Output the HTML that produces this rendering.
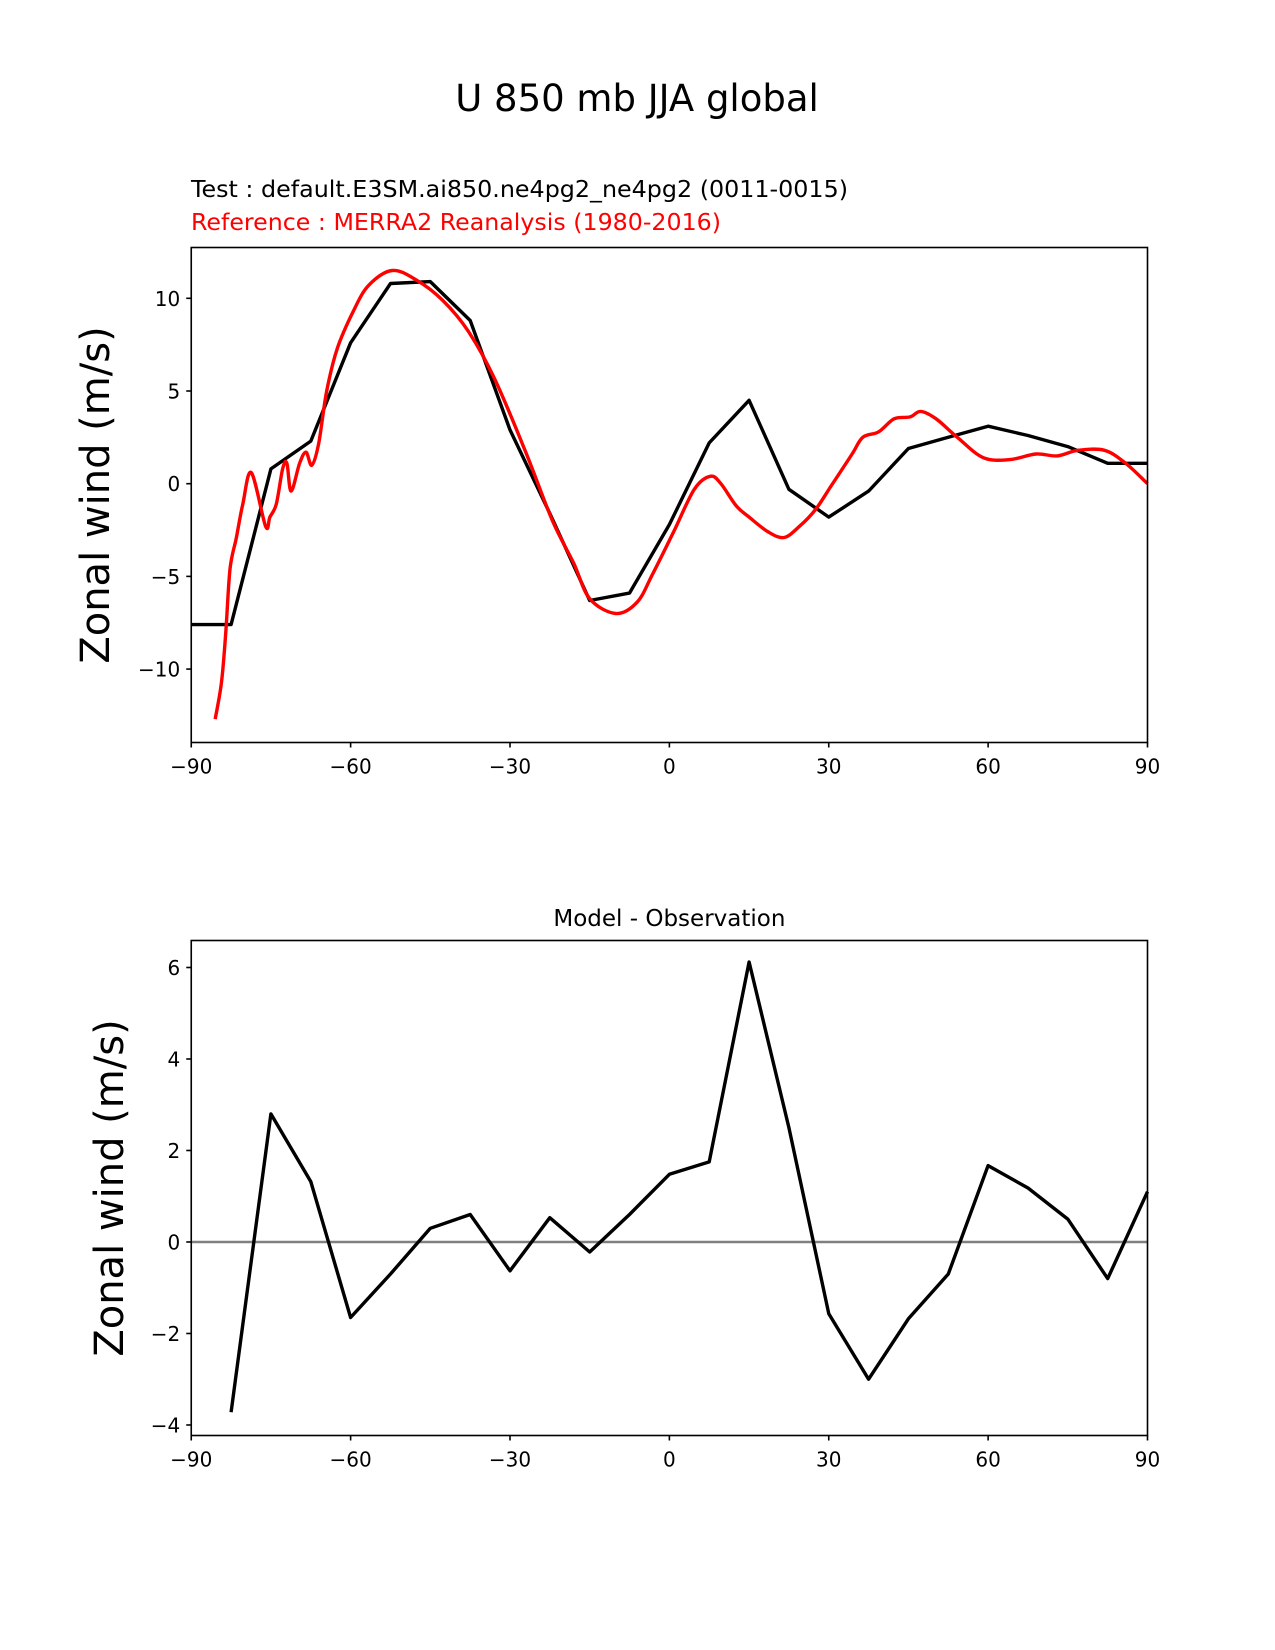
<!DOCTYPE html>
<html><head><meta charset="utf-8"><style>
html,body{margin:0;padding:0;background:#fff}
svg{display:block}
text{font-family:"DejaVu Sans","Liberation Sans",sans-serif}
</style></head><body>
<svg id="fig" width="1275" height="1650" viewBox="0 0 1275 1650" xmlns="http://www.w3.org/2000/svg">
<text x="637" y="111" font-size="37" text-anchor="middle">U 850 mb JJA global</text>
<text x="191" y="197" font-size="23.5" textLength="657" lengthAdjust="spacingAndGlyphs">Test : default.E3SM.ai850.ne4pg2_ne4pg2 (0011-0015)</text>
<text x="191" y="230" font-size="23.5" fill="#ff0000" textLength="530" lengthAdjust="spacingAndGlyphs">Reference : MERRA2 Reanalysis (1980-2016)</text>
<text x="669.4" y="926" font-size="23" text-anchor="middle">Model - Observation</text>
<g id="top"></g>
<g id="bot"></g>
</svg>
<script>
const lats = [-90,-82.5,-75,-67.5,-60,-52.5,-45,-37.5,-30,-22.5,-15,-7.5,0,7.5,15,22.5,30,37.5,45,52.5,60,67.5,75,82.5,90];
const testVals = [-7.6,-7.6,0.8,2.3,7.6,10.8,10.9,8.8,2.9,-1.6,-6.3,-5.9,-2.2,2.2,4.5,-0.3,-1.8,-0.4,1.9,2.5,3.1,2.6,2.0,1.1,1.1];
const refLats = [-85.5,-84.3,-83.5,-82.7,-81.5,-80.3,-78.7,-76,-75.2,-74,-72.8,-72,-71.2,-69.6,-68.4,-67.3,-66,-64.5,-62.5,-59.5,-56.6,-52.2,-47.7,-42.7,-37.8,-32.8,-26.9,-22,-18,-15,-10.1,-6.1,-3.2,0.8,4.7,7.7,9.7,12.6,15,18.6,21.6,24.5,27.5,30.5,34.4,36.4,39.4,42.3,45.3,47.3,50.2,54.2,59.1,64.1,69,73,76.9,81.9,85.9,90];
const refVals = [-12.7,-10.7,-8,-4.6,-2.9,-1.1,0.6,-2.3,-1.8,-1.1,0.8,1.1,-0.4,1.1,1.7,1.0,2.2,5.0,7.3,9.3,10.7,11.5,11.0,9.9,8.2,5.6,1.6,-2.0,-4.3,-6.2,-7.0,-6.4,-4.9,-2.6,-0.3,0.4,0,-1.2,-1.8,-2.6,-2.9,-2.3,-1.4,-0.1,1.6,2.5,2.8,3.5,3.6,3.9,3.5,2.5,1.4,1.3,1.6,1.5,1.8,1.8,1.1,0];
const diffLats = [-82.5,-75,-67.5,-60,-52.5,-45,-37.5,-30,-22.5,-15,-7.5,0,7.5,15,22.5,30,37.5,45,52.5,60,67.5,75,82.5,90];
const diffVals = [-3.72,2.8,1.32,-1.65,-0.7,0.3,0.6,-0.63,0.53,-0.22,0.6,1.48,1.75,6.12,2.5,-1.57,-3.0,-1.68,-0.7,1.67,1.18,0.5,-0.8,1.1];
const xTicks = [-90,-60,-30,0,30,60,90];
const topYTicks = [-10,-5,0,5,10];
const botYTicks = [-4,-2,0,2,4,6];

const NS='http://www.w3.org/2000/svg';
function mk(tag, parent, attrs){const e=document.createElementNS(NS,tag);for(const k in attrs)e.setAttribute(k,attrs[k]);parent.appendChild(e);return e;}
function panel(g, top, bottom, ymin, ymax, yTicks, labelX){
  const L=191.25,R=1147.5;
  const sx=v=>L+(v+90)/180*(R-L);
  const sy=v=>bottom-(v-ymin)/(ymax-ymin)*(bottom-top);
  xTicks.forEach(t=>{
    const tk=mk('line',g,{x1:sx(t),x2:sx(t),y1:bottom,y2:bottom+5,stroke:'#000','stroke-width':1.6});
    
    
    const lb=mk('text',g,{x:sx(t),y:bottom+31,'font-size':20,'text-anchor':'middle'});
    lb.textContent=(t<0?'\u2212'+(-t):String(t));
    
    
  });
  yTicks.forEach(t=>{
    const tk=mk('line',g,{x1:L-5,x2:L,y1:sy(t),y2:sy(t),stroke:'#000','stroke-width':1.6});
    
    
    const lb=mk('text',g,{x:L-11,y:sy(t)+7.5,'font-size':20,'text-anchor':'end'});
    lb.textContent=(t<0?'\u2212'+(-t):String(t));
    
    
  });
  const yl=mk('text',g,{x:0,y:0,'font-size':40,'text-anchor':'middle','dominant-baseline':'central',transform:`translate(${labelX},${(top+bottom)/2}) rotate(-90)`});
  yl.textContent='Zonal wind (m/s)';
  
  
  return {sx,sy,L,R};
}
function line(g,xs,ys,sx,sy,color,w,name,smooth){
  const P=xs.map((x,i)=>[sx(x),sy(ys[i])]);
  let d='M'+P[0][0].toFixed(1)+','+P[0][1].toFixed(1);
  for(let i=1;i<P.length;i++){
    if(!smooth){d+=' L'+P[i][0].toFixed(1)+','+P[i][1].toFixed(1);continue;}
    const p0=P[Math.max(0,i-2)],p1=P[i-1],p2=P[i],p3=P[Math.min(P.length-1,i+1)];
    const c1=[p1[0]+(p2[0]-p0[0])/6,p1[1]+(p2[1]-p0[1])/6];
    const c2=[p2[0]-(p3[0]-p1[0])/6,p2[1]-(p3[1]-p1[1])/6];
    d+=' C'+c1[0].toFixed(1)+','+c1[1].toFixed(1)+' '+c2[0].toFixed(1)+','+c2[1].toFixed(1)+' '+p2[0].toFixed(1)+','+p2[1].toFixed(1);
  }
  const p=mk('path',g,{d,fill:'none',stroke:color,'stroke-width':w,'stroke-linejoin':'round'});
  
  
}
function frame(g,L,R,top,bottom){
  const r=mk('rect',g,{x:L,y:top,width:R-L,height:bottom-top,fill:'none',stroke:'#000','stroke-width':1.6});
  
  
}
const gt=document.getElementById('top');
const T=panel(gt,247.5,742.5,-13.96,12.74,topYTicks,96);
line(gt,lats,testVals,T.sx,T.sy,'#000',3.4,'test-line',false);
line(gt,refLats,refVals,T.sx,T.sy,'#ff0000',3.4,'reference-line',true);
frame(gt,T.L,T.R,247.5,742.5);
const gb=document.getElementById('bot');
const B=panel(gb,940.5,1435.5,-4.23,6.59,botYTicks,110);
const z=mk('line',gb,{x1:B.L,x2:B.R,y1:B.sy(0),y2:B.sy(0),stroke:'#808080','stroke-width':2.5});


line(gb,diffLats,diffVals,B.sx,B.sy,'#000',3.4,'difference-line',false);
frame(gb,B.L,B.R,940.5,1435.5);
</script>
</body></html>
